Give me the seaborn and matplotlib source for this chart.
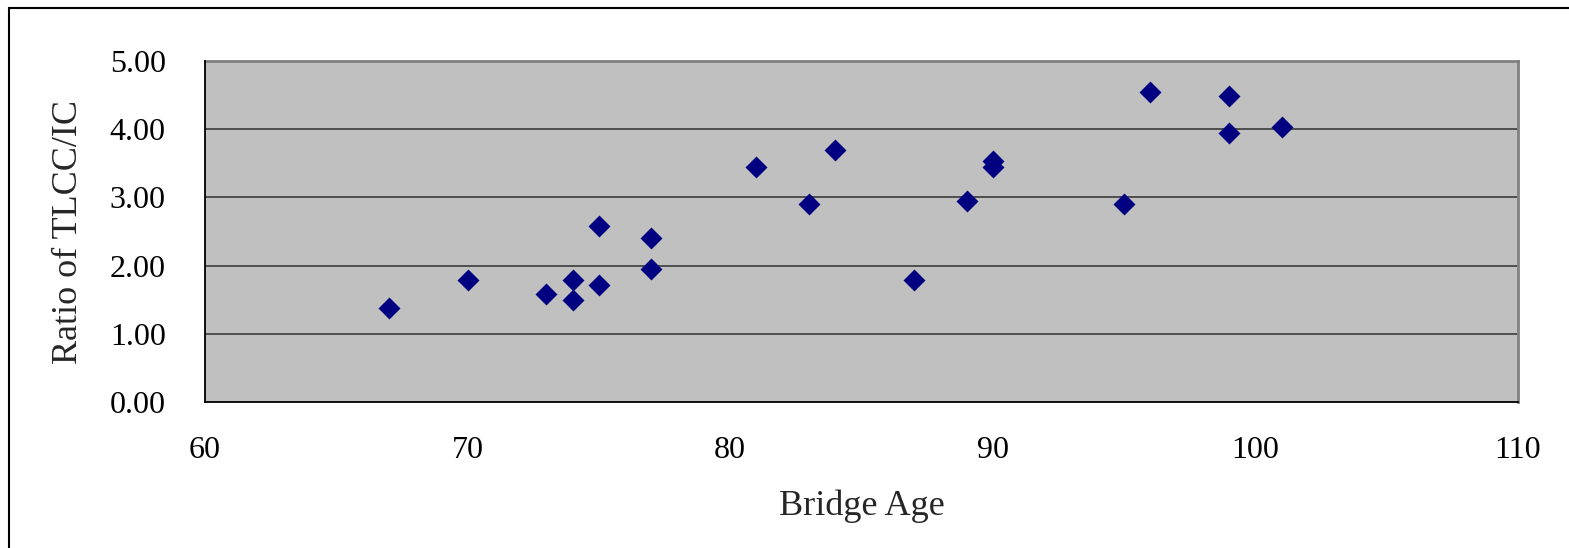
import matplotlib
matplotlib.use("Agg")
import matplotlib.pyplot as plt
import seaborn as sns
import pandas as pd
from matplotlib.patches import Rectangle

bridge_age = [67, 70, 73, 74, 74, 75, 75, 77, 77, 81, 83, 84, 87, 89, 90, 90, 95, 96, 99, 99, 101]
ratio = [1.38, 1.79, 1.58, 1.79, 1.50, 2.58, 1.71, 2.41, 1.95, 3.45, 2.91, 3.70, 1.79, 2.95,
         3.54, 3.45, 2.91, 4.54, 4.49, 3.95, 4.03]
x_ticks = [60, 70, 80, 90, 100, 110]
y_ticks = [0, 1, 2, 3, 4, 5]
y_tick_labels = ["0.00", "1.00", "2.00", "3.00", "4.00", "5.00"]

df = pd.DataFrame({"Bridge Age": bridge_age, "Ratio": ratio})

sns.set_style("white")
plt.rcParams["font.family"] = ["Liberation Serif", "DejaVu Serif"]

fig = plt.figure(figsize=(15.69, 5.48), dpi=100)
ax = fig.add_axes([205 / 1569, 1 - 402 / 548, (1518 - 205) / 1569, (402 - 61) / 548])
ax.set_facecolor("#C0C0C0")

for yv in y_ticks[1:-1]:
    ax.axhline(yv, color="#3a3a3a", lw=1.2, zorder=1)

sns.scatterplot(data=df, x="Bridge Age", y="Ratio", marker="D", s=125,
                color="#000080", edgecolor="#000080", linewidth=0, ax=ax, zorder=3)

ax.set_xlim(60, 110)
ax.set_ylim(0, 5)
ax.set_xticks(x_ticks)
ax.set_yticks(y_ticks)
ax.set_yticklabels(y_tick_labels)
ax.tick_params(axis="both", direction="inout", length=12.5, width=1.1, color="black",
               labelsize=23, labelcolor="black")
ax.tick_params(axis="x", pad=18)
ax.tick_params(axis="y", pad=22)

for side in ["left", "bottom"]:
    ax.spines[side].set_color("black")
    ax.spines[side].set_linewidth(1.3)
for side in ["top", "right"]:
    ax.spines[side].set_color("#808080")
    ax.spines[side].set_linewidth(2.0)
ax.spines["left"].set_zorder(4)
ax.spines["bottom"].set_zorder(4)

ax.set_xlabel("Bridge Age", fontsize=26, labelpad=18)
ax.set_ylabel("Ratio of TLCC/IC", fontsize=26, labelpad=18)

# outer chart frame (extends beyond right and bottom edges)
fig.patches.append(Rectangle((8.5 / 1569, -0.05), 1.1, 1 - 7.5 / 548 + 0.05,
                             transform=fig.transFigure, fill=False,
                             edgecolor="black", linewidth=1.5, zorder=0))

fig.savefig("out.png", dpi=100, facecolor="white")
